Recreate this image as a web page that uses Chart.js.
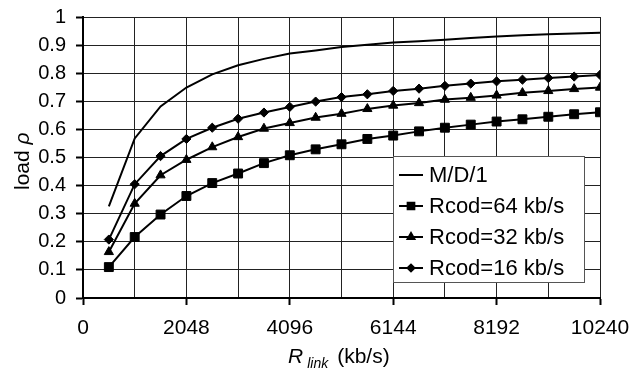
<!DOCTYPE html>
<html>
<head>
<meta charset="utf-8">
<script src="https://cdn.jsdelivr.net/npm/chart.js@4/dist/chart.umd.min.js"></script>
<style>
  html, body { margin: 0; padding: 0; background: #fff; }
  #wrap { width: 632px; height: 369px; position: relative; }
</style>
</head>
<body>
<div id="wrap"><canvas id="loadChart"></canvas></div>
<script>
// R_link (kb/s)
const rLink = [512, 1024, 1536, 2048, 2560, 3072, 3584, 4096, 4608, 5120,
               5632, 6144, 6656, 7168, 7680, 8192, 8704, 9216, 9728, 10240];

// load rho
const md1     = [0.326, 0.568, 0.682, 0.749, 0.796, 0.828, 0.851, 0.870, 0.881, 0.893,
                 0.901, 0.909, 0.914, 0.919, 0.925, 0.931, 0.935, 0.939, 0.941, 0.944];
const rcod64  = [0.110, 0.217, 0.297, 0.363, 0.409, 0.443, 0.480, 0.508, 0.529, 0.547,
                 0.566, 0.578, 0.593, 0.606, 0.617, 0.628, 0.636, 0.645, 0.654, 0.661];
const rcod32  = [0.164, 0.336, 0.437, 0.492, 0.537, 0.573, 0.603, 0.623, 0.642, 0.656,
                 0.673, 0.685, 0.694, 0.706, 0.713, 0.721, 0.730, 0.737, 0.744, 0.749];
const rcod16  = [0.208, 0.405, 0.505, 0.566, 0.606, 0.638, 0.660, 0.680, 0.699, 0.715,
                 0.725, 0.737, 0.745, 0.755, 0.763, 0.771, 0.777, 0.783, 0.788, 0.794];

const seriesLabels = ['M/D/1', 'Rcod=64 kb/s', 'Rcod=32 kb/s', 'Rcod=16 kb/s'];

const FONT = '"Liberation Sans", Arial, sans-serif';

function pts(values) {
    return rLink.map((x, i) => ({ x: x, y: values[i] }));
}

function makeSet(label, values, style, radius) {
    return {
        label: label,
        data: pts(values),
        borderColor: '#000',
        backgroundColor: '#000',
        borderWidth: 2,
        pointStyle: style,
        pointRadius: radius,
        pointBorderWidth: 1,
        tension: 0
    };
}

// legend drawn inside the plot (box on the lower right)
const boxLegend = {
    id: 'boxLegend',
    afterDatasetsDraw(chart) {
        const ctx = chart.ctx;
        const left = 393, top = 156, w = 191, h = 126;
        ctx.save();
        ctx.fillStyle = '#fff';
        ctx.fillRect(left, top, w, h);
        ctx.strokeStyle = '#555';
        ctx.lineWidth = 1;
        ctx.strokeRect(left + 0.5, top + 0.5, w, h);

        ctx.font = '22px ' + FONT;
        ctx.textBaseline = 'middle';
        chart.data.datasets.forEach((ds, i) => {
            const y = top + 19 + i * 31;
            ctx.strokeStyle = '#000';
            ctx.lineWidth = 2;
            ctx.beginPath();
            ctx.moveTo(399, y);
            ctx.lineTo(423, y);
            ctx.stroke();
            if (ds.pointStyle && ds.pointRadius > 0) {
                Chart.helpers.drawPoint(ctx, {
                    pointStyle: ds.pointStyle, radius: ds.pointRadius * 0.75,
                    rotation: 0, borderWidth: 1
                }, 411, y);
                ctx.fillStyle = '#000';
                ctx.fill();
            }
            ctx.fillStyle = '#000';
            ctx.fillText(ds.label, 429, y + 1);
        });
        ctx.restore();
    }
};

// axis titles with italic / subscript parts
const axisTitles = {
    id: 'axisTitles',
    afterDraw(chart) {
        const ctx = chart.ctx;
        ctx.save();
        ctx.fillStyle = '#000';
        ctx.textBaseline = 'alphabetic';

        // x title: R_link (kb/s)
        let x = 288, base = 363;
        ctx.font = 'italic 21px ' + FONT;
        ctx.fillText('R', x, base);
        x += ctx.measureText('R').width + 4;
        ctx.font = 'italic 14px ' + FONT;
        ctx.fillText('link', x, base + 5);
        x += ctx.measureText('link').width + 9;
        ctx.font = '21px ' + FONT;
        ctx.fillText('(kb/s)', x, base);

        // y title: load rho
        ctx.translate(29, 190);
        ctx.rotate(-Math.PI / 2);
        ctx.font = '21px ' + FONT;
        ctx.fillText('load', 0, 0);
        const lw = ctx.measureText('load ').width;
        ctx.font = 'italic 21px ' + FONT;
        ctx.fillText('\u03C1', lw, 0);
        ctx.restore();
    }
};

new Chart(document.getElementById('loadChart'), {
    type: 'line',
    data: {
        datasets: [
            makeSet(seriesLabels[0], md1, false, 0),
            makeSet(seriesLabels[1], rcod64, 'rect', 6.3),
            makeSet(seriesLabels[2], rcod32, 'triangle', 5.3),
            makeSet(seriesLabels[3], rcod16, 'rectRot', 4.6)
        ]
    },
    options: {
        responsive: true,
        maintainAspectRatio: false,
        animation: false,
        layout: { padding: { left: 0, top: 17, right: 32, bottom: 0 } },
        plugins: {
            legend: { display: false },
            tooltip: { enabled: false }
        },
        scales: {
            x: {
                type: 'linear',
                min: 0,
                max: 10240,
                afterFit(scale) {
                    scale.height = 71;
                    scale.paddingLeft = 0;
                    scale.paddingRight = 0;
                },
                border: { color: '#000', width: 2 },
                grid: {
                    color: '#222',
                    lineWidth: 1,
                    tickLength: 7,
                    tickWidth: 2,
                    tickColor: c => (c.tick && c.tick.value % 2048 === 0) ? '#000' : 'rgba(0,0,0,0)'
                },
                ticks: {
                    stepSize: 1024,
                    autoSkip: false,
                    maxRotation: 0,
                    padding: 11,
                    color: '#000',
                    font: { family: FONT, size: 21 },
                    callback: v => (v % 2048 === 0) ? String(v) : ''
                }
            },
            y: {
                min: 0,
                max: 1,
                afterFit(scale) {
                    scale.width = 83;
                    scale.paddingTop = 0;
                    scale.paddingBottom = 0;
                },
                border: { color: '#000', width: 2 },
                grid: {
                    color: '#222',
                    lineWidth: 1,
                    tickLength: 7,
                    tickWidth: 2,
                    tickColor: '#000'
                },
                ticks: {
                    stepSize: 0.1,
                    padding: 10,
                    color: '#000',
                    font: { family: FONT, size: 20 },
                    callback: v => String(Math.round(v * 10) / 10)
                }
            }
        }
    },
    plugins: [boxLegend, axisTitles]
});
</script>
</body>
</html>
